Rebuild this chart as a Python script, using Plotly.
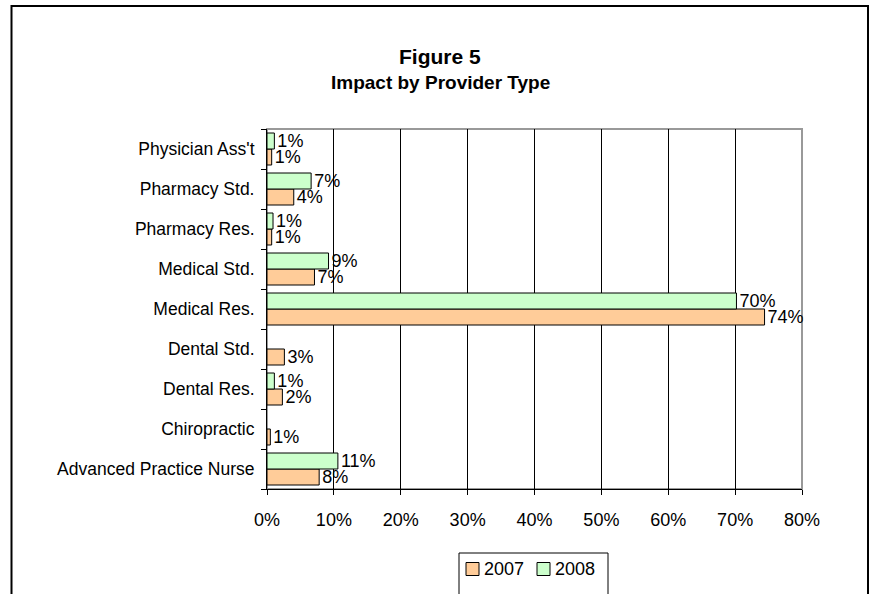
import plotly.graph_objects as go

categories = ["Advanced Practice Nurse", "Chiropractic", "Dental Res.", "Dental Std.",
              "Medical Res.", "Medical Std.", "Pharmacy Res.", "Pharmacy Std.", "Physician Ass't"]
values_2007 = [7.8, 0.5, 2.3, 2.6, 74.4, 7.1, 0.7, 4.0, 0.7]
values_2008 = [10.6, 0, 1.1, 0, 70.2, 9.2, 0.9, 6.6, 1.1]
x_ticks = [0, 10, 20, 30, 40, 50, 60, 70, 80]
series_names = ["2007", "2008"]
series_colors = ["#FFCC99", "#CCFFCC"]

FONT = "Liberation Sans, Arial, sans-serif"
W, H = 871, 594
L, R, T, B = 267, 69, 129, 105
pw, ph = W - L - R, H - T - B


def px(x):
    return (x - L) / pw


def py(y):
    return (H - B - y) / ph


def labels(vals):
    return [f"{int(v + 0.5)}%" if v > 0 else "" for v in vals]


fig = go.Figure()
for name, vals, color in zip(series_names, [values_2007, values_2008], series_colors):
    fig.add_trace(go.Bar(
        y=categories, x=[v if v > 0 else None for v in vals], name=name, orientation="h",
        marker=dict(color=color, line=dict(color="black", width=1)),
        text=labels(vals), textposition="outside", constraintext="none",
        textfont=dict(family=FONT, size=18, color="black"),
        cliponaxis=False, showlegend=False,
    ))

shapes = [
    # outer frame
    dict(type="rect", xref="paper", yref="paper", x0=px(11.5), x1=px(868), y0=py(640), y1=py(6),
         line=dict(color="black", width=2), layer="below"),
    # plot area border
    dict(type="rect", xref="paper", yref="paper", x0=0, x1=1, y0=0, y1=1,
         line=dict(color="#999999", width=2), layer="below"),
    # legend box
    dict(type="rect", xref="paper", yref="paper", x0=px(459), x1=px(608), y0=py(620), y1=py(553),
         line=dict(color="black", width=1), layer="below"),
]

annotations = [
    dict(text="<b>Figure 5</b>", xref="paper", yref="paper", x=px(440), y=py(56),
         xanchor="center", yanchor="middle", showarrow=False,
         font=dict(family=FONT, size=21, color="black")),
    dict(text="<b>Impact by Provider Type</b>", xref="paper", yref="paper", x=px(440), y=py(82),
         xanchor="center", yanchor="middle", showarrow=False,
         font=dict(family=FONT, size=19, color="black")),
]

# manual legend
legend_icon_x = [466, 537]
for i, (name, color) in enumerate(zip(series_names, series_colors)):
    x0 = legend_icon_x[i]
    shapes.append(dict(type="rect", xref="paper", yref="paper",
                       x0=px(x0), x1=px(x0 + 13), y0=py(575.5), y1=py(562.5),
                       fillcolor=color, line=dict(color="black", width=1)))
    annotations.append(dict(text=name, xref="paper", yref="paper", x=px(x0 + 16), y=py(569),
                            xanchor="left", yanchor="middle", showarrow=False,
                            font=dict(family=FONT, size=18, color="black")))

fig.update_layout(
    width=W, height=H,
    margin=dict(l=L, r=R, t=T, b=B),
    paper_bgcolor="white", plot_bgcolor="white",
    font=dict(family=FONT, size=17, color="black"),
    barmode="group", bargap=0.2, bargroupgap=0,
    showlegend=False,
    shapes=shapes,
    annotations=annotations,
    xaxis=dict(range=[0, 80], tickvals=x_ticks, ticktext=[f"{t}%" for t in x_ticks],
               tickfont=dict(family=FONT, size=18, color="black"),
               showgrid=True, gridcolor="black", gridwidth=1,
               showline=True, linecolor="black", linewidth=1,
               ticks="outside", ticklen=5, tickcolor="black", ticklabelstandoff=9,
               zeroline=False, fixedrange=True),
    yaxis=dict(categoryorder="array", categoryarray=categories,
               tickfont=dict(family=FONT, size=17.5, color="black"),
               showline=True, linecolor="black", linewidth=1,
               ticks="outside", ticklen=5, tickcolor="black", tickson="boundaries",
               ticklabelstandoff=8, showgrid=False, fixedrange=True),
)

fig.write_html("out.html")
